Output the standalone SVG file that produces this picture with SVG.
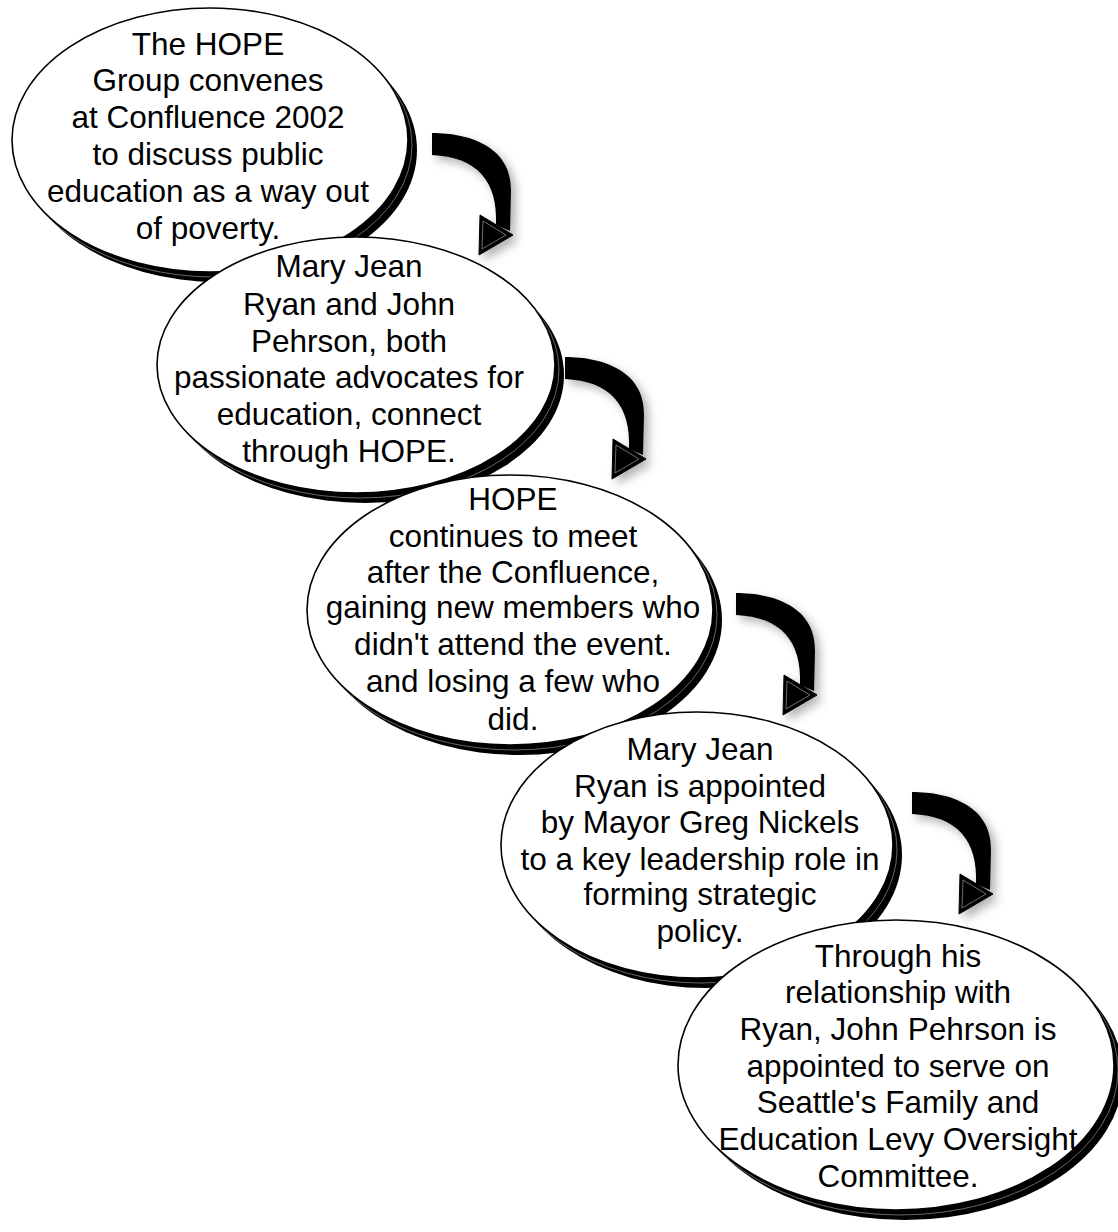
<svg xmlns="http://www.w3.org/2000/svg" width="1118" height="1232" viewBox="0 0 1118 1232">
<defs>
<style>
.sh{fill:#000;stroke:none}
.sh2{fill:#000;stroke:#fff;stroke-width:0.4}
.el{fill:#fff;stroke:#000;stroke-width:1.6}
.t{font-family:"Liberation Sans",Arial,sans-serif;font-size:31.5px;fill:#000;text-anchor:middle}
.shaft{fill:#000}
.head{fill:#000;stroke:#000;stroke-width:1}
.hl{fill:none;stroke:#888;stroke-width:0.8}
</style>
<filter id="ds" x="-30%" y="-30%" width="170%" height="170%">
<feDropShadow dx="5" dy="5" stdDeviation="5" flood-color="#000" flood-opacity="0.3"/>
</filter>
<g id="arrow">
<path class="shaft" d="M0,0 C38,0 80,14 79,58 L78,98 L64,92 C66,48 45,24 0,22 Z"/>
<path class="head" d="M48,82 L81,102 L47,122 Z"/>
<path class="hl" d="M51,88 L74,102 L50,116 Z"/>
</g>
</defs>
<rect width="1118" height="1232" fill="#fff"/>

<g id="node1">
<ellipse class="sh" cx="219" cy="150" rx="198" ry="132"/>
<ellipse class="sh2" cx="214" cy="145" rx="198" ry="132"/>
<ellipse class="el" cx="210" cy="140" rx="198" ry="132"/>
<text class="t"><tspan x="208" y="55">The HOPE</tspan><tspan x="208" y="91">Group convenes</tspan><tspan x="208" y="128">at Confluence 2002</tspan><tspan x="208" y="165">to discuss public</tspan><tspan x="208" y="202">education as a way out</tspan><tspan x="208" y="239">of poverty.</tspan></text>
</g>

<g id="node2">
<ellipse class="sh" cx="365" cy="375" rx="199" ry="128"/>
<ellipse class="sh2" cx="360" cy="370" rx="199" ry="128"/>
<ellipse class="el" cx="356" cy="365" rx="199" ry="128"/>
<text class="t"><tspan x="349" y="277">Mary Jean</tspan><tspan x="349" y="315">Ryan and John</tspan><tspan x="349" y="352">Pehrson, both</tspan><tspan x="349" y="388">passionate advocates for</tspan><tspan x="349" y="425">education, connect</tspan><tspan x="349" y="462">through HOPE.</tspan></text>
</g>

<g id="node3">
<ellipse class="sh" cx="519" cy="620" rx="203" ry="135"/>
<ellipse class="sh2" cx="514" cy="615" rx="203" ry="135"/>
<ellipse class="el" cx="510" cy="610" rx="203" ry="135"/>
<text class="t"><tspan x="513" y="510">HOPE</tspan><tspan x="513" y="547">continues to meet</tspan><tspan x="513" y="583">after the Confluence,</tspan><tspan x="513" y="618">gaining new members who</tspan><tspan x="513" y="655">didn't attend the event.</tspan><tspan x="513" y="692">and losing a few who</tspan><tspan x="513" y="730">did.</tspan></text>
</g>

<g id="node4">
<ellipse class="sh" cx="706" cy="855" rx="196" ry="133"/>
<ellipse class="sh2" cx="701" cy="850" rx="196" ry="133"/>
<ellipse class="el" cx="697" cy="845" rx="196" ry="133"/>
<text class="t"><tspan x="700" y="760">Mary Jean</tspan><tspan x="700" y="797">Ryan is appointed</tspan><tspan x="700" y="833">by Mayor Greg Nickels</tspan><tspan x="700" y="870">to a key leadership role in</tspan><tspan x="700" y="905">forming strategic</tspan><tspan x="700" y="942">policy.</tspan></text>
</g>

<g id="node5">
<ellipse class="sh" cx="905" cy="1075" rx="218" ry="145"/>
<ellipse class="sh2" cx="900" cy="1070" rx="218" ry="145"/>
<ellipse class="el" cx="896" cy="1065" rx="218" ry="145"/>
<text class="t"><tspan x="898" y="967">Through his</tspan><tspan x="898" y="1003">relationship with</tspan><tspan x="898" y="1040">Ryan, John Pehrson is</tspan><tspan x="898" y="1077">appointed to serve on</tspan><tspan x="898" y="1113">Seattle's Family and</tspan><tspan x="898" y="1150">Education Levy Oversight</tspan><tspan x="898" y="1187">Committee.</tspan></text>
</g>

<g id="connectors" filter="url(#ds)">
<use href="#arrow" transform="translate(432,133)"/>
<use href="#arrow" transform="translate(565,357)"/>
<use href="#arrow" transform="translate(736,593)"/>
<use href="#arrow" transform="translate(912,792)"/>
</g>
</svg>
